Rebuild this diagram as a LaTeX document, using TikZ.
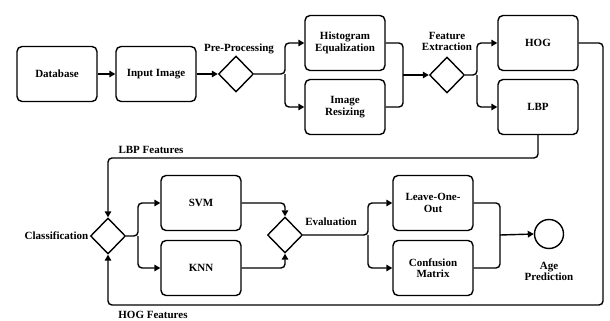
\documentclass[tikz,border=0pt]{standalone}
\usepackage{fontspec}
\setmainfont{Liberation Serif}
\usetikzlibrary{shapes.geometric,arrows.meta}
\begin{document}
\begin{tikzpicture}[x=1pt,y=-1pt,
  font=\fontsize{11}{11.5}\selectfont\bfseries,
  every path/.style={line width=1.4pt},
  stepbox/.style={draw,rounded corners=5pt,minimum width=80pt,minimum height=55pt,align=center,inner sep=1pt},
  gate/.style={draw,diamond,minimum width=35pt,minimum height=36pt,inner sep=0pt,aspect=1},
  endnode/.style={draw,circle,minimum size=29pt,inner sep=0pt},
  lbl/.style={align=center,inner sep=0pt,font=\fontsize{11}{11}\selectfont\bfseries},
  flow/.style={rounded corners=4pt,-{Triangle[length=6pt,width=6.5pt]}},
  link/.style={rounded corners=4pt}]
\useasboundingbox (0,0) rectangle (610,321);

% top row
\node[stepbox] (db) at (57,74) {Database};
\node[stepbox] (inp) at (156,74) {Input Image};
\node[gate] (pre) at (236,74) {};
\node[stepbox] (hist) at (345,43) {Histogram\\Equalization};
\node[stepbox] (resz) at (345,107) {Image\\Resizing};
\node[gate] (fe) at (447,75) {};
\node[stepbox] (hog) at (538,43) {HOG};
\node[stepbox] (lbp) at (538,107) {LBP};

% bottom row
\node[gate] (cls) at (108,236) {};
\node[stepbox] (svm) at (201,203) {SVM};
\node[stepbox] (knn) at (201,268) {KNN};
\node[gate] (ev) at (285,235) {};
\node[stepbox] (loo) at (433,203) {Leave-One-\\Out};
\node[stepbox] (cm) at (433,268) {Confusion\\Matrix};
\node[endnode] (age) at (549,234) {};

% labels
\node[lbl] (lpre) at (239,49) {Pre-Processing};
\node[lbl] (lfe) at (447,41) {Feature\\Extraction};
\node[lbl] (llbp) at (151,150) {LBP Features};
\node[lbl] (lhog) at (153,314.5) {HOG Features};
\node[lbl,anchor=east] (lcls) at (89,236) {Classification};
\node[lbl] (lev) at (331,222) {Evaluation};
\node[lbl] (lage) at (549,271) {Age\\Prediction};

% split / merge points
\coordinate (s1) at (285,74);
\coordinate (m1) at (403,75);
\coordinate (s2) at (477,75);
\coordinate (hr) at (603,43);
\coordinate (hb) at (603,305);
\coordinate (hl) at (108,305);
\coordinate (lb) at (538,158);
\coordinate (ll) at (108,158);
\coordinate (s3) at (138,236);
\coordinate (s4) at (368,235);
\coordinate (m2) at (500,235);

% connectors
\draw[flow] (db) -- (inp);
\draw[flow] (inp) -- (pre);
\draw[flow] (pre.east) -- (s1) |- (hist.west);
\draw[flow] (s1) |- (resz.west);
\draw[link] (hist.east) -| (m1);
\draw[link] (resz.east) -| (m1);
\draw[flow] (m1) -- (fe.west);
\draw[flow] (fe.east) -- (s2) |- (hog.west);
\draw[flow] (s2) |- (lbp.west);
\draw[flow] (hog.east) -- (hr) -- (hb) -- (hl) -- (cls.south);
\draw[flow] (lbp.south) -- (lb) -- (ll) -- (cls.north);
\draw[flow] (cls.east) -- (s3) |- (svm.west);
\draw[flow] (s3) |- (knn.west);
\draw[flow] (svm.east) -| (ev.north);
\draw[flow] (knn.east) -| (ev.south);
\draw[flow] (ev.east) -- (s4) |- (loo.west);
\draw[flow] (s4) |- (cm.west);
\draw[link] (loo.east) -| (m2);
\draw[link] (cm.east) -| (m2);
\draw[flow] (m2) -- (age.west);
\end{tikzpicture}
\end{document}
